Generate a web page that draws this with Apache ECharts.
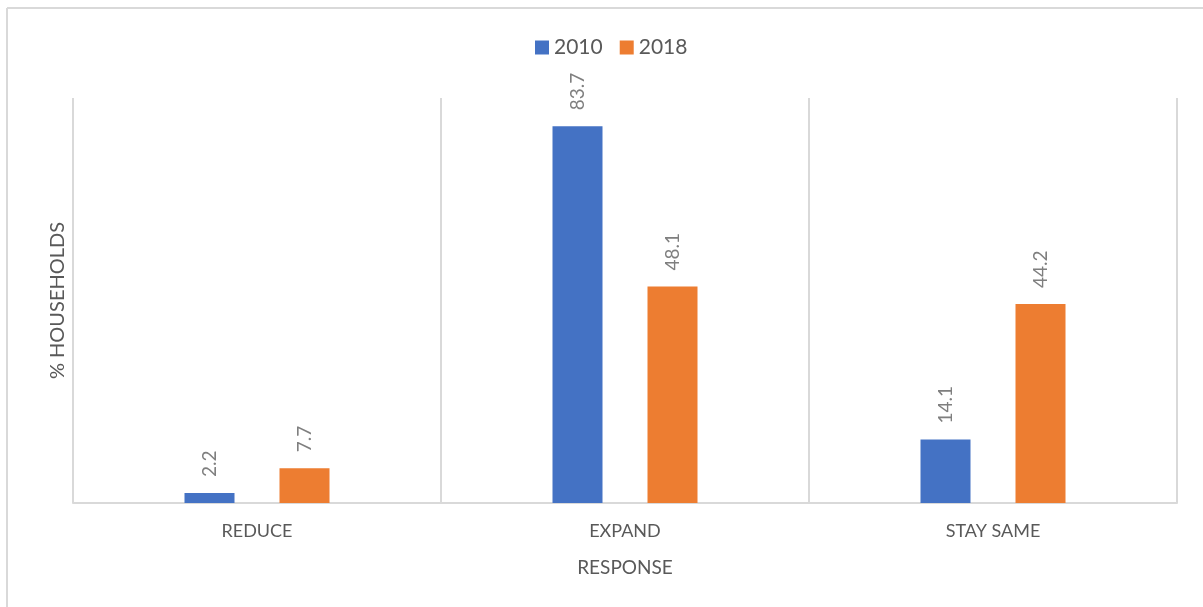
<!DOCTYPE html>
<html>
<head>
<meta charset="utf-8">
<style>
  html, body { margin: 0; padding: 0; background: #fff; }
  #chart { width: 1203px; height: 607px; }
</style>
<script src="https://cdn.jsdelivr.net/npm/echarts@6/dist/echarts.min.js"></script>
</head>
<body>
<div id="chart"></div>
<script>
// Household responses, share of households (%)
const categories = ['REDUCE', 'EXPAND', 'STAY SAME'];
const seriesNames = ['2010', '2018'];
const values2010 = [2.2, 83.7, 14.1];
const values2018 = [7.7, 48.1, 44.2];

const FONT = 'Lato, "Open Sans", sans-serif';
const GRID_COLOR = '#d9d9d9';

const valueLabel = {
  show: true,
  position: 'top',
  rotate: 90,
  align: 'left',
  verticalAlign: 'middle',
  distance: 16,
  color: '#7f7f7f',
  fontSize: 19,
  fontFamily: FONT
};

const chart = echarts.init(document.getElementById('chart'), null, { renderer: 'canvas' });

chart.setOption({
  animation: false,
  backgroundColor: '#fff',
  color: ['#4472C4', '#ED7D31'],
  graphic: [
    { type: 'line', shape: { x1: 7, y1: 8, x2: 1203, y2: 8 }, style: { stroke: GRID_COLOR, lineWidth: 2 } },
    { type: 'line', shape: { x1: 7, y1: 8, x2: 7, y2: 607 }, style: { stroke: GRID_COLOR, lineWidth: 2 } }
  ],
  legend: {
    data: seriesNames,
    top: 37,
    left: 535,
    padding: 0,
    itemWidth: 14,
    itemHeight: 14,
    itemGap: 17,
    icon: 'rect',
    textStyle: { color: '#595959', fontSize: 21, fontFamily: FONT }
  },
  grid: { left: 73, right: 26, top: 98, bottom: 104, containLabel: false },
  xAxis: {
    type: 'category',
    data: categories,
    name: 'RESPONSE',
    nameLocation: 'middle',
    nameGap: 55,
    nameTextStyle: { color: '#595959', fontSize: 19, fontFamily: FONT },
    axisLine: { show: true, lineStyle: { color: GRID_COLOR, width: 2 } },
    axisTick: { show: false },
    axisLabel: { color: '#595959', fontSize: 18, fontFamily: FONT, margin: 19 },
    splitLine: { show: true, lineStyle: { color: GRID_COLOR, width: 2 } }
  },
  yAxis: {
    type: 'value',
    min: 0,
    max: 90,
    name: '% HOUSEHOLDS',
    nameLocation: 'middle',
    nameGap: 5,
    nameTextStyle: { color: '#595959', fontSize: 20, fontFamily: FONT },
    axisLine: { show: false },
    axisTick: { show: false },
    axisLabel: { show: false },
    splitLine: { show: false }
  },
  series: [
    { name: seriesNames[0], type: 'bar', data: values2010, barWidth: 50, barGap: '90%', label: valueLabel },
    { name: seriesNames[1], type: 'bar', data: values2018, barWidth: 50, barGap: '90%', label: valueLabel }
  ]
});
</script>
</body>
</html>
